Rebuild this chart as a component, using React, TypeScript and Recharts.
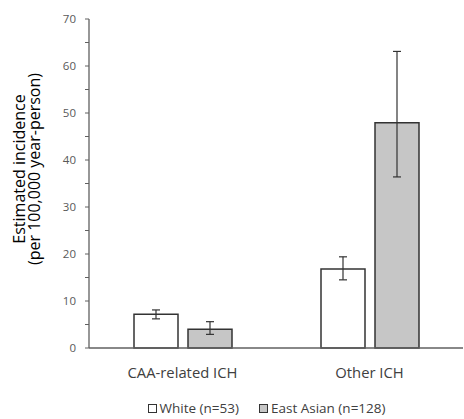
import React from 'react';
import { BarChart, Bar, XAxis, YAxis, ErrorBar, Legend } from 'recharts';

const categories = ['CAA-related ICH', 'Other ICH'];
const whiteValues = [7.2, 16.8];
const whiteLow = [6.2, 14.5];
const whiteHigh = [8.1, 19.4];
const eastAsianValues = [4.0, 47.9];
const eastAsianLow = [2.9, 36.4];
const eastAsianHigh = [5.6, 63.1];
const yTicks = [0, 5, 10, 15, 20, 25, 30, 35, 40, 45, 50, 55, 60, 65, 70];
const yLabelLines = ['Estimated incidence', '(per 100,000 year-person)'];
const seriesNames = ['White (n=53)', 'East Asian (n=128)'];

const data = categories.map((c, i) => ({
  category: c,
  white: whiteValues[i],
  whiteErr: [whiteValues[i] - whiteLow[i], whiteHigh[i] - whiteValues[i]],
  eastAsian: eastAsianValues[i],
  eastAsianErr: [eastAsianValues[i] - eastAsianLow[i], eastAsianHigh[i] - eastAsianValues[i]],
}));

const FONT = '"Open Sans", sans-serif';

const YTick = (props: any) => {
  const { x, y, payload } = props;
  if (payload.value % 10 !== 0) return null;
  return (
    <text x={x - 7} y={y} dy={4} textAnchor="end" fontSize={11.5} fill="#595959" fontFamily={FONT}>
      {payload.value}
    </text>
  );
};

const XTick = (props: any) => {
  const { x, y, payload } = props;
  return (
    <text x={x} y={y} dy={18} textAnchor="middle" fontSize={14.8} fill="#404040" fontFamily={FONT}>
      {payload.value}
    </text>
  );
};

const YLabel = (props: any) => {
  const cy = 169;
  return (
    <g>
      <text x={19} y={cy} transform={`rotate(-90 19 ${cy})`} textAnchor="middle" dominantBaseline="central" fontSize={16} fill="#000" fontFamily={FONT}>
        {yLabelLines[0]}
      </text>
      <text x={34} y={cy} transform={`rotate(-90 34 ${cy})`} textAnchor="middle" dominantBaseline="central" fontSize={16} fill="#000" fontFamily={FONT}>
        {yLabelLines[1]}
      </text>
    </g>
  );
};

const LegendContent = () => (
  <div style={{ display: 'flex', justifyContent: 'center', alignItems: 'center', fontFamily: FONT, fontSize: 13.5, color: '#404040', paddingLeft: 70, paddingTop: 6 }}>
    <span style={{ display: 'inline-block', width: 7, height: 7, border: '1px solid #333', background: '#fff', marginRight: 3 }} />
    <span style={{ marginRight: 20 }}>{seriesNames[0]}</span>
    <span style={{ display: 'inline-block', width: 7, height: 7, border: '1px solid #333', background: '#c6c6c6', marginRight: 3 }} />
    <span>{seriesNames[1]}</span>
  </div>
);

export default function App() {
  return (
    <div style={{ position: 'absolute', left: 0, top: 0, background: '#fff' }}>
      <BarChart
        width={464}
        height={419}
        data={data}
        margin={{ top: 19, right: 1, left: 0, bottom: 0 }}
        barGap={10}
        barSize={44}
      >
        <XAxis
          dataKey="category"
          axisLine={{ stroke: '#606060', strokeWidth: 1.3 }}
          tickLine={false}
          tickSize={0}
          tickMargin={12}
          tick={<XTick />}
          height={45}
          interval={0}
        />
        <YAxis
          width={89}
          domain={[0, 70]}
          ticks={yTicks}
          interval={0}
          axisLine={{ stroke: '#606060', strokeWidth: 1.3 }}
          tickLine={{ stroke: '#606060' }}
          tickSize={4}
          tick={<YTick />}
          label={<YLabel />}
        />
        <Legend verticalAlign="bottom" height={26} content={<LegendContent />} />
        <Bar dataKey="white" fill="#ffffff" stroke="#333333" strokeWidth={1.5} isAnimationActive={false}>
          <ErrorBar dataKey="whiteErr" width={4} stroke="#333333" strokeWidth={1.2} />
        </Bar>
        <Bar dataKey="eastAsian" fill="#c6c6c6" stroke="#333333" strokeWidth={1.5} isAnimationActive={false}>
          <ErrorBar dataKey="eastAsianErr" width={4} stroke="#333333" strokeWidth={1.2} />
        </Bar>
      </BarChart>
    </div>
  );
}
